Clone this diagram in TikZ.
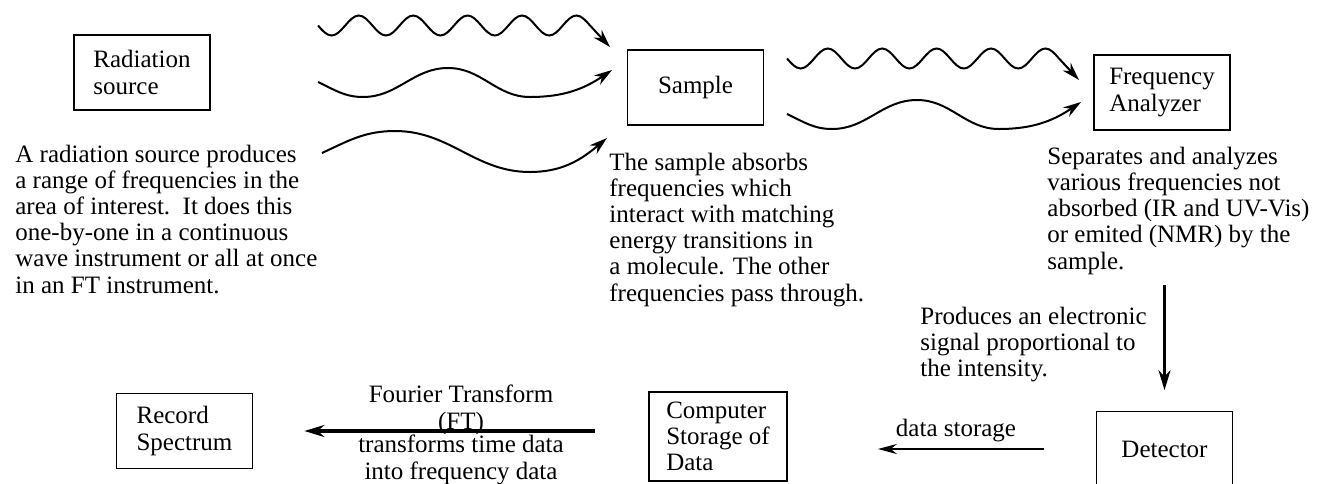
\documentclass[tikz,border=0pt]{standalone}
\usepackage{fontspec}
\setmainfont{Liberation Serif}
\usetikzlibrary{arrows.meta}
\tikzset{
    stagebox/.style={draw, line width=0.85pt, align=left, inner sep=0pt,
        minimum width=68pt, minimum height=37.5pt},
    notetext/.style={align=left, anchor=base west, inner sep=0pt},
    midtext/.style={align=center, anchor=base, inner sep=0pt},
    wavearrow/.style={-{Stealth[length=9pt, width=5.5pt]}, line width=1pt},
    flowarrow/.style={-{Stealth[length=10pt, width=6pt]}, line width=1.65pt}
}

\begin{document}
\begin{tikzpicture}[x=0.5pt, y=-0.5pt, font=\fontsize{12.5}{13.1}\selectfont]
\useasboundingbox (0,0) rectangle (1320,483);

% stages of the spectrometer
\node[stagebox] (source) at (142,72.5) {Radiation\\source};
\node[stagebox] (sample) at (695.5,87.5) {Sample};
\node[stagebox] (analyzer) at (1162,92.5) {Frequency\\Analyzer};
\node[stagebox] (detector) at (1164.5,449) {Detector};
\node[stagebox, minimum width=69pt, minimum height=44.5pt] (storage) at (718,436.5) {Computer\\Storage of\\Data};
\node[stagebox] (record) at (184.5,431) {Record\\Spectrum};

% explanations (placed by the baseline of their last line)
\node[notetext] (sourcenote) at (15,293) {A radiation source produces\\a range of frequencies in the\\area of interest.\ \ It does this\\one-by-one in a continuous\\wave instrument or all at once\\in an FT instrument.};
\node[notetext] (samplenote) at (609,301) {The sample absorbs\\frequencies which\\interact with matching\\energy transitions in\\a molecule. The other\\frequencies pass through.};
\node[notetext] (analyzernote) at (1047,269) {Separates and analyzes\\various frequencies not\\absorbed (IR and UV-Vis)\\or emited (NMR) by the\\sample.};
\node[notetext] (signalnote) at (920,376.5) {Produces an electronic\\signal proportional to\\the intensity.};
\node[midtext] (ftname) at (461,429) {Fourier Transform\\(FT)};
\node[midtext] (ftnote) at (461,479) {transforms time data\\into frequency data};
\node[midtext] (storenote) at (956,436) {data storage};

% radiation going into the sample
\coordinate (srcwave1) at (318,25.5);
\coordinate (srcwave1 tip) at (610,47);
\coordinate (srcwave2) at (318,82);
\coordinate (srcwave2 tip) at (612,70);
\coordinate (srcwave3) at (322,153);
\coordinate (srcwave3 tip) at (607,138);
\draw[wavearrow] (srcwave1) \foreach \k in {1,...,5} {sin ++(13.6,10) cos ++(13.6,-10) sin ++(13.6,-10) cos ++(13.6,10)} -- (srcwave1 tip);
\draw[wavearrow] (srcwave2) to[out=-25,in=180] ++(45,15) to[out=0,in=180] ++(85,-29) to[out=0,in=180] ++(82,29) to[out=0,in=214] (srcwave2 tip);
\draw[wavearrow] (srcwave3) to[out=25,in=180] ++(73,-22) to[out=0,in=180] ++(135,41) to[out=0,in=220] (srcwave3 tip);

% what passes the sample
\coordinate (smpwave1) at (787,58.5);
\coordinate (smpwave1 tip) at (1079,80);
\coordinate (smpwave2) at (787,114);
\coordinate (smpwave2 tip) at (1081,102);
\draw[wavearrow] (smpwave1) \foreach \k in {1,...,5} {sin ++(13.6,10) cos ++(13.6,-10) sin ++(13.6,-10) cos ++(13.6,10)} -- (smpwave1 tip);
\draw[wavearrow] (smpwave2) to[out=-25,in=180] ++(45,15) to[out=0,in=180] ++(85,-29) to[out=0,in=180] ++(82,29) to[out=0,in=214] (smpwave2 tip);

% signal path
\draw[flowarrow, shorten <=77pt, shorten >=10.25pt] (detector.north |- analyzer.south) -- (detector.north);
\draw[flowarrow, line width=1.25pt, -{Stealth[length=9.5pt, width=5pt]}, shorten <=25.75pt, shorten >=45pt] (detector.west) -- (detector.west -| storage.east);
\draw[flowarrow, line width=1.75pt, shorten <=26.5pt, shorten >=25.5pt] (storage.west |- record.east) -- (record.east);
\end{tikzpicture}
\end{document}
